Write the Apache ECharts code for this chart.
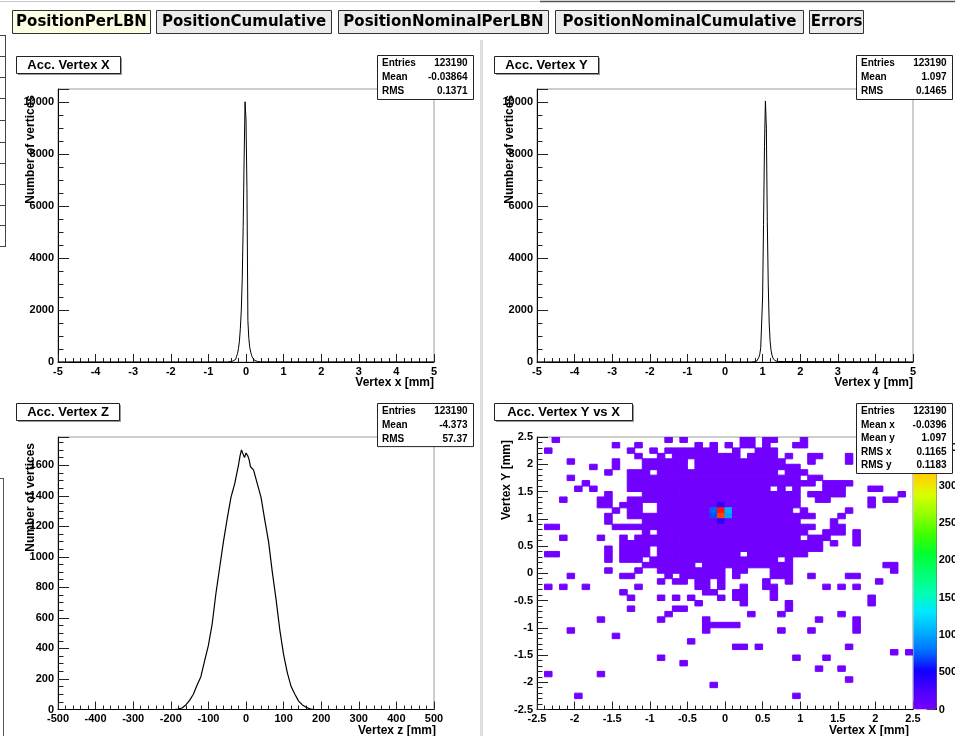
<!DOCTYPE html>
<html>
<head>
<meta charset="utf-8">
<title>Acc. Vertex</title>
<script src="https://cdn.jsdelivr.net/npm/echarts@6/dist/echarts.min.js"></script>
<style>
html, body { margin: 0; padding: 0; background: #fff; }
#main { width: 955px; height: 736px; }
</style>
</head>
<body>
<div id="main"></div>
<script>
var tabNames = ['PositionPerLBN', 'PositionCumulative', 'PositionNominalPerLBN', 'PositionNominalCumulative', 'Errors'];

// Acc. Vertex X, bins of 0.025 mm starting at -0.5 (empty elsewhere)
var vxStart = -0.5;
var vxWidth = 0.025;
var vxCounts = [5, 8, 12, 18, 25, 35, 50, 70, 100, 150, 220, 330, 520, 800, 1300, 2000, 3200, 5200, 7800, 10000,
                9300, 6700, 1600, 900, 560, 380, 250, 160, 100, 65, 40, 25, 15, 8, 4];

// Acc. Vertex Y, bins of 0.025 mm starting at 0.7
var vyStart = 0.7;
var vyWidth = 0.025;
var vyCounts = [5, 8, 12, 20, 30, 45, 70, 110, 180, 300, 550, 1500, 2500, 5300, 8300, 10050, 9000, 5400, 3000, 1500,
                800, 450, 260, 150, 90, 55, 30, 18, 10, 5];

// Acc. Vertex Z
var vzPos = [-500, -190, -180, -170, -160, -150, -140, -130, -120, -110, -100, -90, -80, -70, -60, -50, -40, -30, -20, -16,
             -12, -8, -4, 0, 4, 8, 12, 20, 30, 40, 50, 60, 70, 80, 90, 100, 110, 120, 130, 140, 150, 160, 170, 180, 500];
var vzCounts = [0, 0, 3, 10, 30, 60, 100, 160, 215, 320, 420, 560, 760, 930, 1100, 1250, 1390, 1480, 1600, 1660,
                1700, 1690, 1650, 1680, 1665, 1640, 1590, 1570, 1480, 1390, 1240, 1100, 900, 720, 520, 360, 240, 150, 100, 55,
                30, 14, 5, 0, 0];

// Acc. Vertex Y vs X : 50x50 bins of 0.1 mm, one entry per row (top row first),
// each entry a list of filled column runs [from, to] (column 0 = x -2.5..-2.4)
var yxRows = [
  [[2,2],[17,17],[19,19],[27,28],[30,31],[35,35]],
  [[10,10],[13,13],[21,21],[23,23],[25,25],[27,28],[30,30],[34,35]],
  [[1,1],[12,12],[15,15],[17,23],[26,26],[29,31]],
  [[13,13],[16,16],[18,26],[28,31],[33,33],[36,37],[41,41]],
  [[4,4],[10,10],[14,19],[21,32],[36,36],[41,41]],
  [[7,7],[10,10],[14,19],[21,34]],
  [[9,9],[12,14],[16,31],[33,35]],
  [[4,4],[12,34],[36,37]],
  [[6,6],[12,36],[38,41]],
  [[5,5],[7,7],[12,30],[32,32],[34,34],[38,40],[44,45]],
  [[9,9],[14,34],[36,40],[48,48]],
  [[3,3],[8,9],[12,34],[37,38],[44,44],[46,47]],
  [[8,9],[11,13],[16,34],[44,44]],
  [[10,10],[12,13],[16,33],[35,35],[41,41]],
  [[9,9],[12,36],[40,40]],
  [[9,9],[14,34],[39,39]],
  [[1,2],[10,36],[39,40]],
  [[14,14],[16,35],[38,40],[42,42]],
  [[3,3],[8,8],[11,11],[13,34],[36,38],[42,42]],
  [[11,37],[39,39],[42,42]],
  [[9,9],[11,14],[16,37]],
  [[1,2],[9,9],[11,14],[16,26],[28,35]],
  [[9,9],[11,13],[15,31],[33,33]],
  [[14,20],[22,33],[46,47]],
  [[9,9],[13,13],[16,24],[26,27],[31,33],[47,47]],
  [[4,4],[11,12],[17,17],[19,24],[26,26],[31,33],[36,36],[41,42]],
  [[16,16],[18,19],[21,22],[24,24],[30,30],[33,33],[45,45]],
  [[1,1],[3,3],[6,6],[13,13],[21,22],[24,24],[27,27],[30,31],[38,38],[40,40],[42,42]],
  [[11,11],[22,23],[26,27],[31,31]],
  [[12,12],[16,16],[18,18],[20,20],[24,24],[26,27],[31,31],[44,44]],
  [[21,21],[27,27],[33,33],[44,44]],
  [[12,12],[18,19],[33,33]],
  [[17,17],[28,28],[32,32],[40,40]],
  [[8,8],[16,16],[22,22],[37,37],[42,42]],
  [[22,26],[42,42]],
  [[4,4],[22,22],[32,32],[36,36],[42,42]],
  [[10,10]],
  [[20,20]],
  [[26,27],[29,29],[41,41]],
  [[47,47],[49,49]],
  [[16,16],[34,34],[38,38]],
  [[19,19]],
  [[37,37],[40,40]],
  [[1,1],[8,8]],
  [[41,41]],
  [[23,23]],
  [],
  [[5,5],[34,34]],
  [],
  []
];
var yxFloor = 30;
// bins standing out of the violet floor: [col, row, entries]
var yxHot = [[24,13,3600],[24,14,3500],[25,13,1050],[25,14,1000],[23,13,750],[23,14,700],[24,12,380],[24,15,380]];

var statsX = [['Entries', '123190'], ['Mean', '-0.03864'], ['RMS', '0.1371']];
var statsY = [['Entries', '123190'], ['Mean', '1.097'], ['RMS', '0.1465']];
var statsZ = [['Entries', '123190'], ['Mean', '-4.373'], ['RMS', '57.37']];
var statsYX = [['Entries', '123190'], ['Mean x', '-0.0396'], ['Mean y', '1.097'], ['RMS x', '0.1165'], ['RMS y', '0.1183']];

var paletteColors = ['#7700ff', '#4a00ff', '#1000ff', '#0070ff', '#00b0ff', '#00e8ff', '#00ffb0', '#00ff70',
                     '#00ff30', '#40ff00', '#90ff00', '#d8ff00', '#ffd000', '#ff7000', '#ff0000'];

var rootFont = '"Liberation Sans", Arial, sans-serif';

function histLine(lo, hi, start, width, counts) {
    var pts = [[lo, 0]];
    for (var i = 0; i < counts.length; i++) {
        pts.push([start + i * width, counts[i]]);
    }
    pts.push([start + counts.length * width, 0]);
    pts.push([hi, 0]);
    return pts;
}

function zLine() {
    var pts = [];
    for (var i = 0; i < vzPos.length; i++) pts.push([vzPos[i], vzCounts[i]]);
    return pts;
}

function yxCells() {
    var cells = [];
    var hot = {};
    for (var h = 0; h < yxHot.length; h++) hot[yxHot[h][0] + '_' + yxHot[h][1]] = yxHot[h][2];
    for (var r = 0; r < yxRows.length; r++) {
        for (var k = 0; k < yxRows[r].length; k++) {
            for (var c = yxRows[r][k][0]; c <= yxRows[r][k][1]; c++) {
                var v = hot[c + '_' + r] || yxFloor;
                cells.push([-2.45 + 0.1 * c, 2.45 - 0.1 * r, v]);
            }
        }
    }
    return cells;
}

function axis(grid, min, max, interval, minor, tickLen, showMax) {
    return {
        type: 'value', gridIndex: grid, min: min, max: max, interval: interval,
        axisLine: {show: true, onZero: false, lineStyle: {color: '#000', width: 1}},
        axisTick: {show: true, inside: true, length: tickLen, lineStyle: {color: '#222'}},
        minorTick: {show: true, splitNumber: minor, length: tickLen / 2, lineStyle: {color: '#222'}},
        splitLine: {show: false},
        minorSplitLine: {show: false},
        axisLabel: {
            color: '#000', fontFamily: rootFont, fontWeight: 'bold', fontSize: 11, margin: 4,
            showMaxLabel: showMax, showMinLabel: true,
            formatter: function (v) { return String(v); }
        }
    };
}

// ---- graphic helpers ----
var gfx = [];

function txt(x, y, s, font, align, vAlign, rot) {
    gfx.push({
        type: 'text', x: x, y: y, rotation: rot || 0, z: 100,
        style: {text: s, font: font, fill: '#000', textAlign: align, textVerticalAlign: vAlign,
                align: align, verticalAlign: vAlign}
    });
}

function box(x, y, w, h, fill, stroke) {
    gfx.push({
        type: 'rect', z: 100,
        shape: {x: x, y: y, width: w, height: h},
        style: {fill: fill, stroke: stroke, lineWidth: 1}
    });
}

function line(x1, y1, x2, y2, color, w) {
    gfx.push({
        type: 'line', z: 100,
        shape: {x1: x1, y1: y1, x2: x2, y2: y2},
        style: {stroke: color, lineWidth: w || 1}
    });
}

function titleBox(x, y, w, h, s) {
    box(x + 1.5, y + 1.5, w, h, '#999', null);
    box(x, y, w, h, '#fff', '#222');
    txt(x + w / 2, y + h / 2 + 0.5, s, 'bold 13px ' + rootFont, 'center', 'middle');
}

function statsBox(x, y, w, rows, rowH) {
    box(x, y, w, rows.length * rowH + 2, '#fff', '#222');
    for (var i = 0; i < rows.length; i++) {
        var cy = y + 1 + rowH * (i + 0.5);
        txt(x + 4.5, cy, rows[i][0], 'bold 10px ' + rootFont, 'left', 'middle');
        txt(x + w - 6, cy, rows[i][1], 'bold 10px ' + rootFont, 'right', 'middle');
    }
}

// window edges and separators
line(0, 1.5, 540, 1.5, '#c8c8c8', 1);
line(540, 1.5, 955, 1.5, '#555', 1.5);
gfx.push({type: 'rect', z: 1, shape: {x: 480, y: 40, width: 3, height: 696}, style: {fill: '#dedede'}});
line(5.5, 35, 5.5, 246, '#444', 1);
var fragY = [35, 56, 77, 98, 120, 142, 163, 184, 205, 225, 246];
for (var f = 0; f < fragY.length; f++) line(0, fragY[f] + 0.5, 6, fragY[f] + 0.5, '#444', 1);
line(3.5, 478, 3.5, 736, '#555', 1);
line(0, 478.5, 4, 478.5, '#555', 1);

// tabs
var tabX = [[12, 150], [156, 331], [338, 548], [555, 803], [809, 863]];
for (var t = 0; t < tabNames.length; t++) {
    box(tabX[t][0] + 0.5, 10.5, tabX[t][1] - tabX[t][0], 23, t === 0 ? '#fdfde4' : '#ebebeb', '#333');
    txt((tabX[t][0] + tabX[t][1]) / 2 + 0.5, 22.5, tabNames[t], 'bold 15px "DejaVu Sans"', 'center', 'middle');
}

// panel titles and statistics
titleBox(16.5, 56.5, 104, 17, 'Acc. Vertex X');
titleBox(494.5, 56.5, 104, 17, 'Acc. Vertex Y');
titleBox(16.5, 403.5, 103, 17, 'Acc. Vertex Z');
titleBox(494.5, 403.5, 138, 17, 'Acc. Vertex Y vs X');
statsBox(377.5, 55.5, 96, statsX, 14);
statsBox(856.5, 55.5, 96, statsY, 14);
statsBox(377.5, 403.5, 96, statsZ, 13.7);
statsBox(856.5, 403.5, 96, statsYX, 13.6);

// axis titles
var axFont = 'bold 12px ' + rootFont;
txt(434, 383, 'Vertex x [mm]', axFont, 'right', 'middle');
txt(913, 383, 'Vertex y [mm]', axFont, 'right', 'middle');
txt(436, 731, 'Vertex z [mm]', axFont, 'right', 'middle');
txt(909, 731, 'Vertex X [mm]', axFont, 'right', 'middle');
txt(31, 95, 'Number of vertices', axFont, 'right', 'middle', Math.PI / 2);
txt(510, 95, 'Number of vertices', axFont, 'right', 'middle', Math.PI / 2);
txt(31, 443, 'Number of vertices', axFont, 'right', 'middle', Math.PI / 2);
txt(507, 440, 'Vertex Y [mm]', axFont, 'right', 'middle', Math.PI / 2);

var gridStyle = {show: true, borderColor: '#9a9a9a', borderWidth: 1, backgroundColor: 'transparent',
                 containLabel: false, outerBoundsMode: 'none'};
function grid(l, t, w, h) {
    return Object.assign({left: l, top: t, width: w, height: h}, gridStyle);
}

var paletteAxis = axis(4, 0, 3650, 500, 5, 10, false);
paletteAxis.position = 'right';
paletteAxis.minorTick = {show: false};
paletteAxis.axisLabel.margin = 2;

var myChart = echarts.init(document.getElementById('main'));

var option = {
    animation: false,
    backgroundColor: '#fff',
    grid: [
        grid(58, 89, 376, 273),
        grid(537, 89, 376, 273),
        grid(58, 437, 376, 272.5),
        grid(537, 437, 376, 272.5),
        {left: 913.3, top: 437, width: 23.4, height: 272.5, show: false,
         containLabel: false, outerBoundsMode: 'none'}
    ],
    xAxis: [
        axis(0, -5, 5, 1, 5, 8, true),
        axis(1, -5, 5, 1, 5, 8, true),
        axis(2, -500, 500, 100, 5, 8, true),
        axis(3, -2.5, 2.5, 0.5, 5, 8, true),
        {type: 'value', gridIndex: 4, show: false, min: 0, max: 1}
    ],
    yAxis: [
        axis(0, 0, 10490, 2000, 4, 11, false),
        axis(1, 0, 10510, 2000, 4, 11, false),
        axis(2, 0, 1785, 200, 4, 11, false),
        axis(3, -2.5, 2.5, 0.5, 5, 11, true),
        paletteAxis
    ],
    visualMap: {
        type: 'continuous',
        seriesIndex: 3,
        dimension: 2,
        min: 0,
        max: 3650,
        calculable: false,
        orient: 'vertical',
        left: 913.3,
        top: 437,
        padding: 0,
        itemWidth: 23.4,
        itemHeight: 272.5,
        text: null,
        inRange: {color: paletteColors}
    },
    graphic: {elements: gfx},
    series: [
        {
            name: 'Acc. Vertex X', type: 'line', xAxisIndex: 0, yAxisIndex: 0, step: 'end',
            symbol: 'none', lineStyle: {color: '#000', width: 1},
            data: histLine(-5, 5, vxStart, vxWidth, vxCounts)
        },
        {
            name: 'Acc. Vertex Y', type: 'line', xAxisIndex: 1, yAxisIndex: 1, step: 'end',
            symbol: 'none', lineStyle: {color: '#000', width: 1},
            data: histLine(-5, 5, vyStart, vyWidth, vyCounts)
        },
        {
            name: 'Acc. Vertex Z', type: 'line', xAxisIndex: 2, yAxisIndex: 2,
            symbol: 'none', lineStyle: {color: '#000', width: 1.2},
            data: zLine()
        },
        {
            name: 'Acc. Vertex Y vs X', type: 'custom', xAxisIndex: 3, yAxisIndex: 3,
            clip: true,
            renderItem: function (params, api) {
                var p = api.coord([api.value(0) - 0.05, api.value(1) + 0.05]);
                var s = api.size([0.1, 0.1]);
                var col = api.visual('color');
                return {
                    type: 'rect',
                    shape: {x: p[0], y: p[1], width: s[0], height: s[1]},
                    style: {fill: col, stroke: col, lineWidth: 1}
                };
            },
            data: yxCells()
        }
    ]
};

myChart.setOption(option);
</script>
</body>
</html>
